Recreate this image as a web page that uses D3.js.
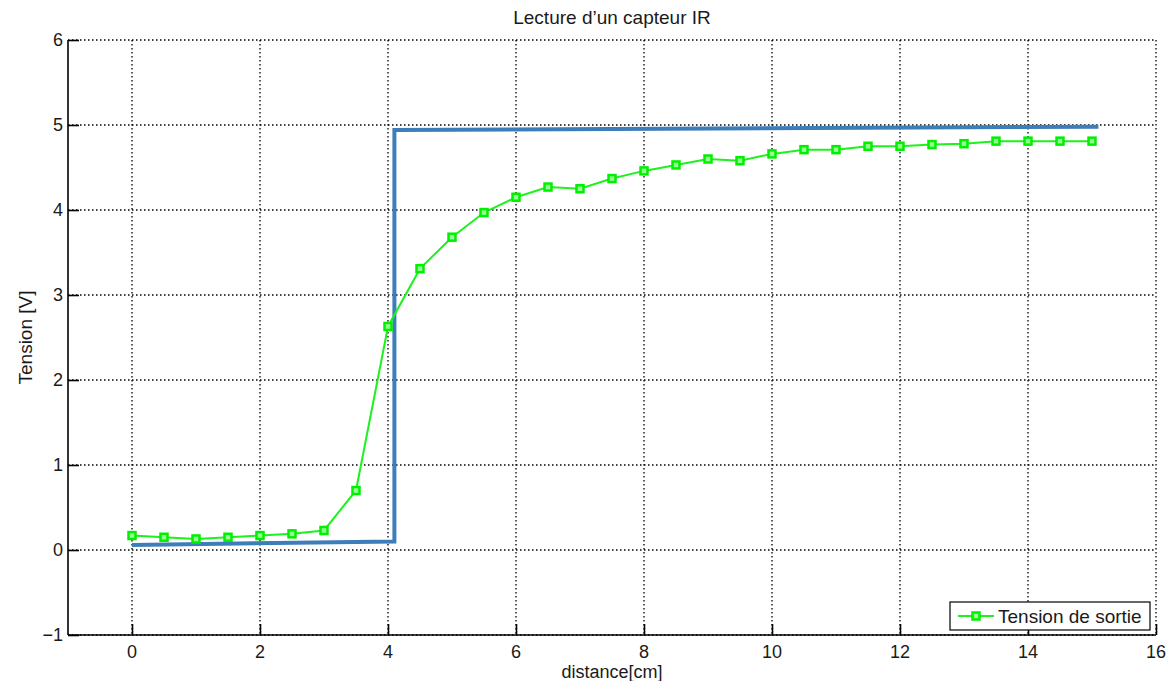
<!DOCTYPE html>
<html>
<head>
<meta charset="utf-8">
<script src="https://cdn.jsdelivr.net/npm/d3@7"></script>
<style>
	body { margin: 0; background: #fff; }
	text { font-family: "Liberation Sans", Arial, sans-serif; fill: #1a1a1a; }
	.grid line { stroke: #000; stroke-width: 1.3; stroke-dasharray: 1.5,2.5; }
</style>
</head>
<body>
<svg id="chart" width="1176" height="681"></svg>
<script>
// valeurs
var distance = [0, 0.5, 1, 1.5, 2, 2.5, 3, 3.5, 4, 4.5, 5, 5.5, 6, 6.5, 7, 7.5,
	8, 8.5, 9, 9.5, 10, 10.5, 11, 11.5, 12, 12.5, 13, 13.5, 14, 14.5, 15];
var tension = [0.17, 0.15, 0.13, 0.15, 0.17, 0.19, 0.23, 0.70, 2.63, 3.31, 3.68, 3.97,
	4.15, 4.27, 4.25, 4.37, 4.46, 4.53, 4.60, 4.58, 4.66, 4.71, 4.71, 4.75, 4.75,
	4.77, 4.78, 4.81, 4.81, 4.81, 4.81];
var seuilX = [0, 4.1, 4.1, 15.1];
var seuilY = [0.06, 0.10, 4.94, 4.98];
var xTicks = [0, 2, 4, 6, 8, 10, 12, 14, 16];
var yTicks = [-1, 0, 1, 2, 3, 4, 5, 6];

var svg = d3.select("#chart"),
	pLeft = 68,
	pRight = 1156,
	pTop = 40,
	pBottom = 635;

var x = d3.scaleLinear().domain([-1, 16]).range([pLeft, pRight]);
var y = d3.scaleLinear().domain([-1, 6]).range([pBottom, pTop]);

// grille
var grid = svg.append("g").attr("class", "grid");
grid.selectAll(".gx")
	.data(xTicks)
	.enter().append("line")
	.attr("x1", function(d){return x(d);})
	.attr("x2", function(d){return x(d);})
	.attr("y1", pTop)
	.attr("y2", pBottom);
grid.selectAll(".gy")
	.data(yTicks)
	.enter().append("line")
	.attr("y1", function(d){return y(d);})
	.attr("y2", function(d){return y(d);})
	.attr("x1", pLeft)
	.attr("x2", pRight);

// axes
var fmt = function(d){return d < 0 ? "\u2212" + Math.abs(d) : d;};

var xAxis = svg.append("g")
	.attr("transform", "translate(0," + pBottom + ")")
	.call(d3.axisTop(x).tickValues(xTicks).tickSize(11).tickFormat(""));
var yAxis = svg.append("g")
	.attr("transform", "translate(" + pLeft + ",0)")
	.call(d3.axisRight(y).tickValues(yTicks).tickSize(11).tickFormat(""));

[xAxis, yAxis].forEach(function(a) {
	a.select(".domain").attr("stroke", "#000").attr("stroke-width", 1.6);
	a.selectAll(".tick line").attr("stroke", "#000").attr("stroke-width", 1.6);
});
xAxis.select(".domain").attr("d", "M" + pLeft + ",0H" + pRight);
yAxis.select(".domain").attr("d", "M0," + pTop + "V" + pBottom);

svg.append("g").selectAll("text")
	.data(xTicks)
	.enter().append("text")
	.attr("x", function(d){return x(d);})
	.attr("y", pBottom + 23)
	.attr("text-anchor", "middle")
	.attr("font-size", 18)
	.text(fmt);

svg.append("g").selectAll("text")
	.data(yTicks)
	.enter().append("text")
	.attr("x", pLeft - 5)
	.attr("y", function(d){return y(d) + 6;})
	.attr("text-anchor", "end")
	.attr("font-size", 18)
	.text(fmt);

// courbe seuil (bleue)
var seuil = seuilX.map(function(d, i){return [d, seuilY[i]];});
svg.append("path")
	.datum(seuil)
	.attr("fill", "none")
	.attr("stroke", "#3d7db9")
	.attr("stroke-width", 4)
	.attr("d", d3.line().x(function(d){return x(d[0]);}).y(function(d){return y(d[1]);}));

// tension de sortie (verte)
var pts = distance.map(function(d, i){return [d, tension[i]];});
svg.append("path")
	.datum(pts)
	.attr("fill", "none")
	.attr("stroke", "#1cf21c")
	.attr("stroke-width", 2)
	.attr("d", d3.line().x(function(d){return x(d[0]);}).y(function(d){return y(d[1]);}));

svg.append("g").selectAll("rect")
	.data(pts)
	.enter().append("rect")
	.attr("x", function(d){return x(d[0]) - 3.5;})
	.attr("y", function(d){return y(d[1]) - 3.5;})
	.attr("width", 7)
	.attr("height", 7)
	.attr("fill", "#9f9")
	.attr("stroke", "#00f000")
	.attr("stroke-width", 2.5);

// titres
svg.append("text")
	.attr("x", (pLeft + pRight) / 2)
	.attr("y", 24)
	.attr("text-anchor", "middle")
	.attr("font-size", 19)
	.text("Lecture d\u2019un capteur IR");

svg.append("text")
	.attr("x", (pLeft + pRight) / 2)
	.attr("y", 678)
	.attr("text-anchor", "middle")
	.attr("font-size", 18)
	.text("distance[cm]");

svg.append("text")
	.attr("transform", "translate(32," + ((pTop + pBottom) / 2) + ") rotate(-90)")
	.attr("text-anchor", "middle")
	.attr("font-size", 19)
	.text("Tension [V]");

// légende
var legend = svg.append("g").attr("transform", "translate(950,602)");
legend.append("rect")
	.attr("width", 200)
	.attr("height", 28)
	.attr("fill", "#fff")
	.attr("stroke", "#000")
	.attr("stroke-width", 1.2);
legend.append("line")
	.attr("x1", 8).attr("x2", 44)
	.attr("y1", 14).attr("y2", 14)
	.attr("stroke", "#1cf21c")
	.attr("stroke-width", 2);
legend.append("rect")
	.attr("x", 22.5).attr("y", 10.5)
	.attr("width", 7).attr("height", 7)
	.attr("fill", "#9f9")
	.attr("stroke", "#00f000")
	.attr("stroke-width", 2.5);
legend.append("text")
	.attr("x", 48)
	.attr("y", 21)
	.attr("font-size", 19)
	.text("Tension de sortie");
</script>
</body>
</html>
